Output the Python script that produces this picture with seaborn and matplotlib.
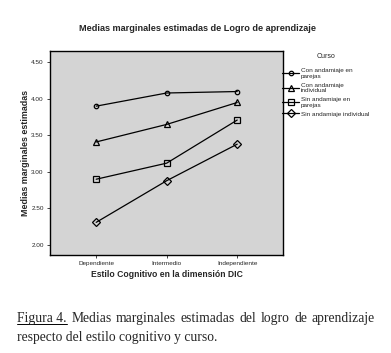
import matplotlib
import numpy as np
import pandas as pd

matplotlib.use("Agg")
import matplotlib.pyplot as plt
from matplotlib.lines import Line2D
import seaborn as sns

estilos = ["Dependiente", "Intermedio", "Independiente"]
cursos = ["Con andamiaje en\nparejas", "Con andamiaje\nindividual",
          "Sin andamiaje en\nparejas", "Sin andamiaje individual"]
con_parejas = [3.90, 4.08, 4.10]
con_individual = [3.41, 3.65, 3.95]
sin_parejas = [2.90, 3.12, 3.71]
sin_individual = [2.31, 2.88, 3.38]
y_ticks = [2.00, 2.50, 3.00, 3.50, 4.00, 4.50]

marcadores = ["o", "^", "s", "D"]
tamanos = [3.2, 4.8, 4.6, 4.4]

df = pd.DataFrame({
    "estilo": np.tile(np.arange(len(estilos)), len(cursos)),
    "curso": np.repeat(cursos, len(estilos)),
    "media": con_parejas + con_individual + sin_parejas + sin_individual,
})

sns.set_style("white")
plt.rcParams["font.family"] = ["Liberation Sans", "DejaVu Sans"]

fig = plt.figure(figsize=(3.91, 3.53), dpi=100)
ax = fig.add_axes([0.1279, 0.2776, 0.596, 0.578])
ax.set_facecolor("#d4d4d4")

sns.lineplot(data=df, x="estilo", y="media", hue="curso", style="curso",
             palette=["black"] * 4, markers=marcadores, dashes=False,
             linewidth=0.9, ax=ax, legend=False)
for line, m, s in zip(ax.lines, marcadores, tamanos):
    line.set_markerfacecolor("none")
    line.set_markeredgecolor("black")
    line.set_markeredgewidth(0.9)
    line.set_markersize(s)

ax.set_xlim(-0.655, 2.65)
ax.set_ylim(1.863, 4.655)
ax.set_xticks(range(len(estilos)))
ax.set_xticklabels(estilos, fontsize=4.6)
ax.set_yticks(y_ticks)
ax.set_yticklabels([f"{v:.2f}" for v in y_ticks], fontsize=4.6)
ax.tick_params(axis="both", direction="out", length=2.5, width=0.6, pad=2,
               bottom=True, left=True)
for sp in ax.spines.values():
    sp.set_color("black")
    sp.set_linewidth(1.0)

ax.set_xlabel("Estilo Cognitivo en la dimensión DIC", fontsize=6.2,
              fontweight="bold", labelpad=3)
ax.set_ylabel("Medias marginales estimadas", fontsize=6.4,
              fontweight="bold", labelpad=0.5)

fig.text(0.506, 0.92, "Medias marginales estimadas de Logro de aprendizaje",
         ha="center", va="center", fontsize=6.6, fontweight="bold")

handles = [Line2D([0], [0], color="black", lw=0.9, marker=m, markersize=s,
                  markerfacecolor="none", markeredgewidth=0.9)
           for m, s in zip(marcadores, tamanos)]
leg = fig.legend(handles, cursos, title="Curso", loc="upper left",
                 bbox_to_anchor=(0.722, 0.85), frameon=False, fontsize=4.6,
                 title_fontsize=5.0, handlelength=2.6, handletextpad=0.25,
                 labelspacing=0.55, borderaxespad=0, borderpad=0)
leg._legend_box.sep = 6

# pie de figura (primera linea justificada)
serif = ["Liberation Serif", "DejaVu Serif"]
fs = 9.8
x_izq, x_der = 0.044, 0.959
y1, y2 = 0.088, 0.034
palabras = ["Figura 4.", "Medias", "marginales", "estimadas", "del", "logro",
            "de", "aprendizaje"]
fig.canvas.draw()
renderer = fig.canvas.get_renderer()
textos = [fig.text(0, y1, p, fontsize=fs, family=serif, ha="left",
                   va="baseline") for p in palabras]
anchos = [t.get_window_extent(renderer).width / fig.bbox.width for t in textos]
hueco = (x_der - x_izq - sum(anchos)) / (len(palabras) - 1)
x = x_izq
for t, w in zip(textos, anchos):
    t.set_x(x)
    x += w + hueco
fig.add_artist(Line2D([x_izq, x_izq + anchos[0]], [y1 - 0.007, y1 - 0.007],
                      color="black", lw=0.7, transform=fig.transFigure))
fig.text(x_izq, y2, "respecto del estilo cognitivo y curso.", fontsize=fs,
         family=serif, ha="left", va="baseline")

fig.savefig("out.png", dpi=100, facecolor="white")
